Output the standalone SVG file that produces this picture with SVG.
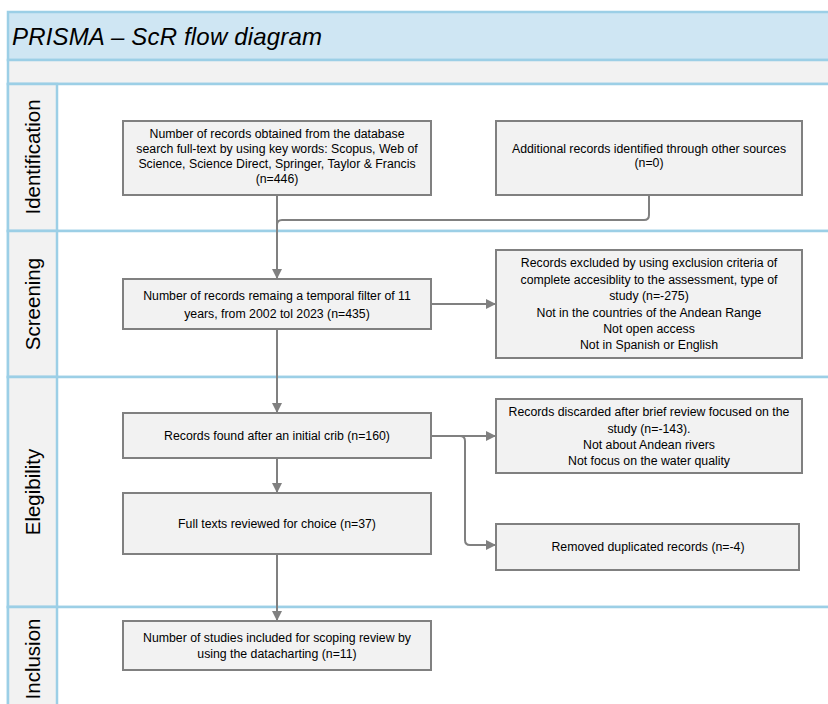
<svg xmlns="http://www.w3.org/2000/svg" width="828" height="704" viewBox="0 0 828 704">
<defs>
<style>
.lane{fill:#ffffff;stroke:#9ccfe6;stroke-width:2.5}
.lab{fill:#f2f2f2;stroke:#9ccfe6;stroke-width:2.5}
.box{fill:#f2f2f2;stroke:#808080;stroke-width:2}
.t{font-family:"Liberation Sans",Arial,sans-serif;font-size:12.3px;fill:#000;text-anchor:middle}
.ll{font-family:"Liberation Sans",Arial,sans-serif;font-size:20.5px;fill:#000;text-anchor:middle}
.con{fill:none;stroke:#808080;stroke-width:2}
</style>
<marker id="ah" markerWidth="10" markerHeight="10" viewBox="0 0 10 10" refX="10" refY="5" orient="auto" markerUnits="userSpaceOnUse">
<path d="M0,0 L10,5 L0,10 Z" fill="#808080"/>
</marker>
</defs>
<rect x="0" y="0" width="828" height="704" fill="#ffffff"/>
<g id="frame">
<rect x="8" y="12" width="830" height="48" fill="#cfe6f3" stroke="#9ccfe6" stroke-width="2.5"/>
<text x="12" y="45" font-family="Liberation Sans,Arial,sans-serif" font-style="italic" font-size="24" textLength="310" fill="#000">PRISMA – ScR flow diagram</text>
<rect x="8" y="60" width="830" height="24" fill="#f2f2f2" stroke="#9ccfe6" stroke-width="2.5"/>
</g>
<g id="lane-identification">
<rect class="lane" x="8" y="84" width="830" height="147"/>
<rect class="lab" x="8" y="84" width="49" height="147"/>
<text class="ll" transform="translate(40,157) rotate(-90)">Identification</text>
</g>
<g id="lane-screening">
<rect class="lane" x="8" y="231" width="830" height="146"/>
<rect class="lab" x="8" y="231" width="49" height="146"/>
<text class="ll" transform="translate(40,304) rotate(-90)">Screening</text>
</g>
<g id="lane-elegibility">
<rect class="lane" x="8" y="377" width="830" height="230"/>
<rect class="lab" x="8" y="377" width="49" height="230"/>
<text class="ll" transform="translate(40,492) rotate(-90)">Elegibility</text>
</g>
<g id="lane-inclusion">
<rect class="lane" x="8" y="607" width="830" height="110"/>
<rect class="lab" x="8" y="607" width="49" height="110"/>
<text class="ll" transform="translate(40,659) rotate(-90)">Inclusion</text>
</g>
<g id="connectors">
<path class="con" d="M277,195 V279" marker-end="url(#ah)"/>
<path class="con" d="M649,195 V215 Q649,220 644,220 H282 Q277,220 277,225"/>
<path class="con" d="M431,304 H496" marker-end="url(#ah)"/>
<path class="con" d="M277,329 V413" marker-end="url(#ah)"/>
<path class="con" d="M277,458 V493" marker-end="url(#ah)"/>
<path class="con" d="M277,554 V621" marker-end="url(#ah)"/>
<path class="con" d="M431,436 H496" marker-end="url(#ah)"/>
<path class="con" d="M460,436 Q465,436 465,441 V540 Q465,545 470,545 H496" marker-end="url(#ah)"/>
</g>
<g id="n-database">
<rect class="box" x="123" y="121" width="308" height="74"/>
<text class="t" x="277" y="137.5">Number of records obtained from the database</text>
<text class="t" x="277" y="152.5">search full-text by using key words: Scopus, Web of</text>
<text class="t" x="277" y="167.5">Science, Science Direct, Springer, Taylor &amp; Francis</text>
<text class="t" x="277" y="183">(n=446)</text>
</g>
<g id="n-additional">
<rect class="box" x="496" y="121" width="306" height="74"/>
<text class="t" x="649" y="153">Additional records identified through other sources</text>
<text class="t" x="649" y="167">(n=0)</text>
</g>
<g id="n-temporal">
<rect class="box" x="123" y="279" width="308" height="50"/>
<text class="t" x="277" y="300">Number of records remaing a temporal filter of 11</text>
<text class="t" x="277" y="318">years, from 2002 tol 2023 (n=435)</text>
</g>
<g id="n-excluded">
<rect class="box" x="496" y="250" width="306" height="108"/>
<text class="t" x="649" y="267">Records excluded by using exclusion criteria of</text>
<text class="t" x="649" y="283.5">complete accesiblity to the assessment, type of</text>
<text class="t" x="649" y="300">study (n=-275)</text>
<text class="t" x="649" y="316.5">Not in the countries of the Andean Range</text>
<text class="t" x="649" y="333">Not open access</text>
<text class="t" x="649" y="349">Not in Spanish or English</text>
</g>
<g id="n-crib">
<rect class="box" x="123" y="413" width="308" height="45"/>
<text class="t" x="277" y="440">Records found after an initial crib (n=160)</text>
</g>
<g id="n-discarded">
<rect class="box" x="496" y="399" width="306" height="74"/>
<text class="t" x="649" y="416">Records discarded after brief review focused on the</text>
<text class="t" x="649" y="432.5">study (n=-143).</text>
<text class="t" x="649" y="448.5">Not about Andean rivers</text>
<text class="t" x="649" y="464.5">Not focus on the water quality</text>
</g>
<g id="n-fulltext">
<rect class="box" x="123" y="493" width="308" height="61"/>
<text class="t" x="277" y="528">Full texts reviewed for choice (n=37)</text>
</g>
<g id="n-duplicated">
<rect class="box" x="496" y="524" width="303" height="46"/>
<text class="t" x="648" y="551">Removed duplicated records (n=-4)</text>
</g>
<g id="n-included">
<rect class="box" x="123" y="621" width="308" height="49"/>
<text class="t" x="277" y="642">Number of studies included for scoping review by</text>
<text class="t" x="277" y="658">using the datacharting (n=11)</text>
</g>
</svg>
